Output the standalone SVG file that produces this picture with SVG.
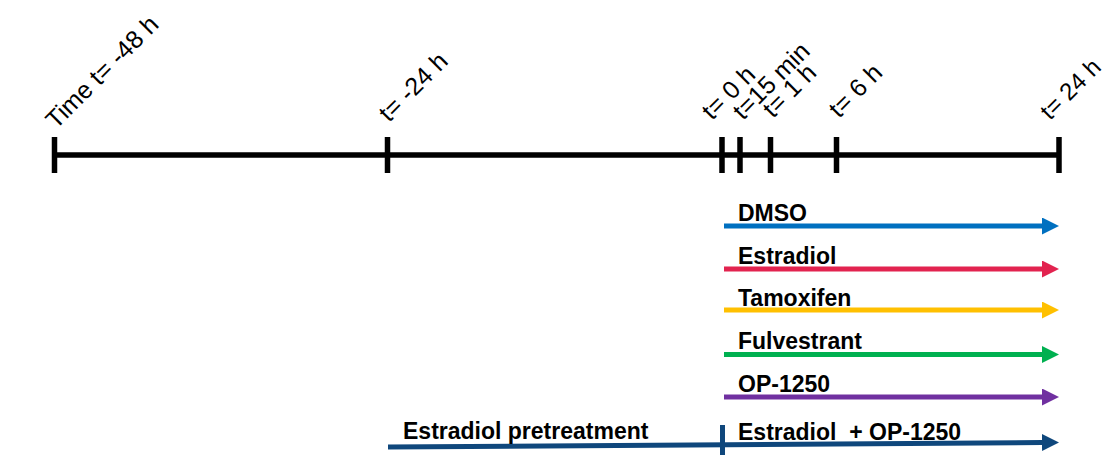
<svg xmlns="http://www.w3.org/2000/svg" width="1107" height="455" viewBox="0 0 1107 455">
<style>
.tl{stroke:#000;stroke-width:5.5;fill:none}
.tk{stroke:#000;stroke-width:5.5}
.rl{font-family:"Liberation Sans",Arial,sans-serif;font-size:25px;fill:#000}
.lb{font-family:"Liberation Sans",Arial,sans-serif;font-size:23px;font-weight:bold;fill:#000}
.ar{stroke-width:5;fill:none}
</style>
<defs>
<marker id="ah-blue" markerUnits="userSpaceOnUse" markerWidth="17" markerHeight="17" refX="0" refY="8.5" orient="auto"><path d="M0,0 L17,8.5 L0,17 Z" fill="#0070C0"/></marker>
<marker id="ah-red" markerUnits="userSpaceOnUse" markerWidth="17" markerHeight="17" refX="0" refY="8.5" orient="auto"><path d="M0,0 L17,8.5 L0,17 Z" fill="#E2234F"/></marker>
<marker id="ah-yellow" markerUnits="userSpaceOnUse" markerWidth="17" markerHeight="17" refX="0" refY="8.5" orient="auto"><path d="M0,0 L17,8.5 L0,17 Z" fill="#FFC000"/></marker>
<marker id="ah-green" markerUnits="userSpaceOnUse" markerWidth="17" markerHeight="17" refX="0" refY="8.5" orient="auto"><path d="M0,0 L17,8.5 L0,17 Z" fill="#00B050"/></marker>
<marker id="ah-purple" markerUnits="userSpaceOnUse" markerWidth="17" markerHeight="17" refX="0" refY="8.5" orient="auto"><path d="M0,0 L17,8.5 L0,17 Z" fill="#7030A0"/></marker>
<marker id="ah-navy" markerUnits="userSpaceOnUse" markerWidth="17" markerHeight="17" refX="0" refY="8.5" orient="auto"><path d="M0,0 L17,8.5 L0,17 Z" fill="#0F477C"/></marker>
</defs>
<rect width="1107" height="455" fill="#fff"/>
<g id="timeline">
<line class="tl" x1="52" y1="155" x2="1061" y2="155"/>
<line class="tk" x1="54.5" y1="137" x2="54.5" y2="173"/>
<line class="tk" x1="387.5" y1="137" x2="387.5" y2="173"/>
<line class="tk" x1="722" y1="137" x2="722" y2="173"/>
<line class="tk" x1="740" y1="137" x2="740" y2="173"/>
<line class="tk" x1="770.5" y1="137" x2="770.5" y2="173"/>
<line class="tk" x1="836.5" y1="137" x2="836.5" y2="173"/>
<line class="tk" x1="1059" y1="137" x2="1059" y2="173"/>
</g>
<g id="time-labels">
<text class="rl" transform="translate(56,130) rotate(-45)">Time t= -48 h</text>
<text class="rl" transform="translate(389,123) rotate(-45)">t= -24 h</text>
<text class="rl" transform="translate(712,121) rotate(-45)">t= 0 h</text>
<text class="rl" transform="translate(743,121) rotate(-45)">t=15 min</text>
<text class="rl" transform="translate(773,119) rotate(-45)">t= 1 h</text>
<text class="rl" transform="translate(839,119) rotate(-45)">t= 6 h</text>
<text class="rl" style="font-size:24px" transform="translate(1050,121) rotate(-45)">t= 24 h</text>
</g>
<g id="connectors">
<line class="ar" stroke="#0070C0" x1="724" y1="226" x2="1042" y2="226" marker-end="url(#ah-blue)"/>
<line class="ar" stroke="#E2234F" x1="724" y1="269" x2="1042" y2="269" marker-end="url(#ah-red)"/>
<line class="ar" stroke="#FFC000" x1="724" y1="310" x2="1042" y2="310" marker-end="url(#ah-yellow)"/>
<line class="ar" stroke="#00B050" x1="724" y1="354.5" x2="1042" y2="354.5" marker-end="url(#ah-green)"/>
<line class="ar" stroke="#7030A0" x1="724" y1="397" x2="1042" y2="397" marker-end="url(#ah-purple)"/>
<line class="ar" stroke="#0F477C" x1="388" y1="447" x2="1042" y2="442.5" marker-end="url(#ah-navy)"/>
<line stroke="#0F477C" stroke-width="5" x1="722.5" y1="425" x2="722.5" y2="455"/>
</g>
<g id="node-dmso"><text class="lb" x="738" y="221">DMSO</text></g>
<g id="node-estradiol"><text class="lb" x="738" y="264">Estradiol</text></g>
<g id="node-tamoxifen"><text class="lb" x="738" y="306">Tamoxifen</text></g>
<g id="node-fulvestrant"><text class="lb" x="738" y="349">Fulvestrant</text></g>
<g id="node-op1250"><text class="lb" x="738" y="392">OP-1250</text></g>
<g id="node-pretreatment"><text class="lb" x="403" y="439">Estradiol pretreatment</text></g>
<g id="node-combo"><text class="lb" x="738" y="440" xml:space="preserve">Estradiol  + OP-1250</text></g>
</svg>
